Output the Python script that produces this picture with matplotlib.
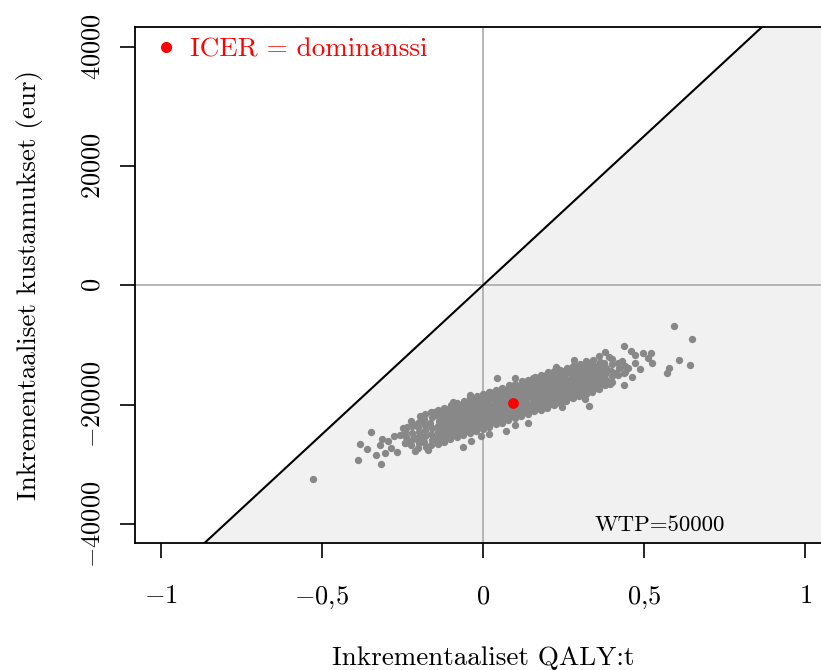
import matplotlib
matplotlib.use("Agg")
import matplotlib.pyplot as plt
from matplotlib.lines import Line2D
import numpy as np

plt.rcParams['font.family'] = 'serif'
plt.rcParams['font.serif'] = ['cmr10', 'DejaVu Serif']
plt.rcParams['mathtext.fontset'] = 'cm'
plt.rcParams['axes.unicode_minus'] = False

# simulated incremental QALYs / costs (dense core of the cloud)
core_qaly = [
    -0.243, -0.238, -0.241, -0.236,
    -0.222, -0.218, -0.221, -0.219, -0.223,
    -0.202, -0.197, -0.201, -0.198, -0.203, -0.199, -0.196,
    -0.178, -0.183, -0.179, -0.181, -0.177, -0.182, -0.180,
    -0.161, -0.157, -0.162, -0.159, -0.163, -0.158, -0.160,
    -0.139, -0.142, -0.138, -0.141, -0.137, -0.143, -0.140,
    -0.128, -0.132, -0.129, -0.131, -0.127, -0.130,
    -0.121, -0.118, -0.122, -0.119, -0.123, -0.117, -0.120,
    -0.108, -0.112, -0.109, -0.111, -0.107, -0.110,
    -0.101, -0.098, -0.102, -0.099, -0.103, -0.097, -0.100,
    -0.088, -0.092, -0.089, -0.091, -0.087, -0.090,
    -0.081, -0.078, -0.082, -0.079, -0.083, -0.077, -0.080,
    -0.068, -0.072, -0.069, -0.071, -0.067, -0.070,
    -0.061, -0.058, -0.062, -0.059, -0.063, -0.057, -0.060,
    -0.048, -0.052, -0.049, -0.051, -0.047, -0.050,
    -0.041, -0.038, -0.042, -0.039, -0.043, -0.037, -0.040,
    -0.028, -0.032, -0.029, -0.031, -0.027, -0.030,
    -0.021, -0.018, -0.022, -0.019, -0.023, -0.017, -0.020,
    -0.008, -0.012, -0.009, -0.011, -0.007, -0.010,
    -0.001, 0.002, -0.002, 0.001, -0.003, 0.003, 0.000,
    0.012, 0.008, 0.011, 0.009, 0.013, 0.010,
    0.019, 0.022, 0.018, 0.021, 0.017, 0.023, 0.020,
    0.032, 0.028, 0.031, 0.029, 0.033, 0.030,
    0.039, 0.042, 0.038, 0.041, 0.037, 0.043, 0.040,
    0.052, 0.048, 0.051, 0.049, 0.053, 0.050,
    0.059, 0.062, 0.058, 0.061, 0.057, 0.063, 0.060,
    0.072, 0.068, 0.071, 0.069, 0.073, 0.070,
    0.079, 0.082, 0.078, 0.081, 0.077, 0.083, 0.080,
    0.092, 0.088, 0.091, 0.089, 0.093, 0.090,
    0.099, 0.102, 0.098, 0.101, 0.097, 0.103, 0.100,
    0.112, 0.108, 0.111, 0.109, 0.113, 0.110,
    0.119, 0.122, 0.118, 0.121, 0.117, 0.123, 0.120,
    0.132, 0.128, 0.131, 0.129, 0.133, 0.130,
    0.139, 0.142, 0.138, 0.141, 0.137, 0.143, 0.140,
    0.152, 0.148, 0.151, 0.149, 0.153, 0.150,
    0.159, 0.162, 0.158, 0.161, 0.157, 0.163, 0.160,
    0.172, 0.168, 0.171, 0.169, 0.173, 0.170,
    0.179, 0.182, 0.178, 0.181, 0.177, 0.183, 0.180,
    0.192, 0.188, 0.191, 0.189, 0.193, 0.190,
    0.199, 0.202, 0.198, 0.201, 0.197, 0.203, 0.200,
    0.212, 0.208, 0.211, 0.209, 0.213, 0.210,
    0.219, 0.222, 0.218, 0.221, 0.217, 0.223, 0.220,
    0.232, 0.228, 0.231, 0.229, 0.233, 0.230,
    0.239, 0.242, 0.238, 0.241, 0.237, 0.243, 0.240,
    0.252, 0.248, 0.251, 0.249, 0.253, 0.250,
    0.259, 0.262, 0.258, 0.261, 0.257, 0.263, 0.260,
    0.272, 0.268, 0.271, 0.269, 0.273, 0.270,
    0.279, 0.282, 0.278, 0.281, 0.277, 0.283, 0.280,
    0.292, 0.288, 0.291, 0.289, 0.293, 0.290,
    0.299, 0.302, 0.298, 0.301, 0.297, 0.303, 0.300,
    0.312, 0.308, 0.311, 0.309, 0.313, 0.310,
    0.319, 0.322, 0.318, 0.321, 0.317, 0.323, 0.320,
    0.332, 0.328, 0.331, 0.329, 0.333, 0.330,
    0.339, 0.342, 0.338, 0.341, 0.337, 0.343, 0.340,
    0.352, 0.348, 0.351, 0.349, 0.353,
    0.359, 0.362, 0.358, 0.361, 0.357, 0.363,
    0.372, 0.368, 0.371, 0.369,
    0.379, 0.382, 0.378, 0.381, 0.377,
    0.399, 0.402, 0.398, 0.401,
    0.419, 0.422, 0.418,
    0.439, 0.442,
]
core_cost = [
    -26500, -25500, -24600, -23700,
    -26800, -25750, -24700, -23650, -22800,
    -27300, -26450, -25550, -24650, -23700, -22850, -21950,
    -27100, -26200, -25350, -24300, -23450, -22400, -21550,
    -26850, -25950, -24900, -24000, -23100, -22050, -21200,
    -26550, -25500, -24650, -23600, -22750, -21700, -20850,
    -25800, -24850, -23950, -22950, -22050, -21050,
    -26250, -25200, -24300, -23250, -22400, -21350, -20500,
    -25450, -24550, -23500, -22650, -21600, -20750,
    -25800, -24900, -23850, -22950, -22050, -20950, -20100,
    -25150, -24100, -23250, -22200, -21350, -20300,
    -25500, -24450, -23600, -22550, -21700, -20600, -19750,
    -24700, -23850, -22800, -21950, -20900, -20050,
    -25150, -24100, -23250, -22200, -21350, -20250, -19400,
    -24350, -23500, -22450, -21600, -20550, -19700,
    -24750, -23850, -22800, -21950, -20850, -20000, -18950,
    -24100, -23050, -22200, -21150, -20300, -19250,
    -24400, -23500, -22450, -21550, -20500, -19650, -18550,
    -23650, -22800, -21750, -20900, -19850, -19000,
    -24100, -23050, -22200, -21100, -20250, -19150, -18300,
    -23300, -22450, -21400, -20550, -19500, -18650,
    -23700, -22700, -21850, -20750, -19900, -18800, -17950,
    -22950, -22100, -21050, -20200, -19150, -18300,
    -23300, -22450, -21350, -20500, -19450, -18550, -17500,
    -22600, -21750, -20700, -19850, -18800, -17950,
    -23050, -21950, -21100, -20050, -19150, -18100, -17250,
    -22250, -21400, -20350, -19500, -18450, -17600,
    -22600, -21700, -20650, -19800, -18700, -17850, -16800,
    -21900, -21050, -20000, -19100, -18050, -17200,
    -22300, -21250, -20400, -19350, -18450, -17400, -16550,
    -21550, -20700, -19650, -18750, -17700, -16850,
    -21850, -21000, -19950, -19050, -18000, -17150, -16100,
    -21200, -20350, -19250, -18400, -17350, -16500,
    -21600, -20550, -19700, -18600, -17750, -16700, -15850,
    -20850, -20000, -18900, -18050, -17000, -16150,
    -21150, -20300, -19250, -18350, -17300, -16450, -15400,
    -20550, -19500, -18650, -17600, -16750, -15700,
    -20900, -19850, -19000, -17900, -17050, -16000, -15150,
    -20100, -19250, -18200, -17350, -16300, -15450,
    -20500, -19450, -18600, -17550, -16700, -15650, -14800,
    -19850, -18800, -17950, -16900, -16050, -15000,
    -20150, -19100, -18250, -17200, -16350, -15300, -14450,
    -19400, -18550, -17500, -16650, -15600, -14750,
    -19750, -18750, -17900, -16850, -16000, -14950, -14150,
    -19150, -18100, -17250, -16200, -15350, -14300,
    -19350, -18350, -17550, -16500, -15650, -14600, -13850,
    -18700, -17850, -16800, -15950, -14900, -14050,
    -18950, -17950, -17150, -16150, -15300, -14300, -13550,
    -18400, -17350, -16450, -15450, -14550, -13550,
    -18550, -17550, -16800, -15800, -15000, -14000, -13250,
    -18050, -17150, -16150, -15250, -14250, -13350,
    -18300, -17250, -16450, -15450, -14550, -13550, -12750,
    -17650, -16750, -15750, -14850, -13800, -12950,
    -17850, -16950, -15950, -15150, -14150, -13350, -12450,
    -17250, -16350, -15350, -14450, -13450,
    -17350, -16450, -15650, -14650, -13850, -12850,
    -16550, -15650, -14550, -13650,
    -16750, -15850, -14850, -13950, -12950,
    -16250, -15200, -14300, -13250,
    -15000, -13950, -13000,
    -14700, -13500,
]

# scattered simulations around the edges of the cloud
tail_qaly = [
    -0.527, -0.388, -0.381, -0.360, -0.347, -0.332, -0.316, -0.304,
    -0.285, -0.267, -0.211, -0.171, -0.319, -0.313, -0.295, -0.276,
    -0.257, -0.248, -0.242, -0.226, -0.217, -0.211, -0.192, -0.180,
    -0.152, -0.121, -0.140, -0.093, -0.040, -0.009, 0.022, -0.062,
    -0.037, -0.006, 0.019, 0.071, 0.099, 0.140, 0.043, 0.099,
    0.155, 0.180, 0.202, 0.226, 0.245, 0.282, 0.316, 0.329,
    0.378, 0.394, 0.437, 0.437, 0.459, 0.462, 0.471, 0.471,
    0.487, 0.496, 0.512, 0.521, 0.524, 0.571, 0.577, 0.592,
    0.608, 0.642, 0.648, 0.410, 0.440, 0.450, 0.430, 0.400,
    0.390, 0.360,
]
tail_cost = [
    -32530, -29350, -26660, -27500, -24650, -28510, -30020, -28170,
    -27340, -28010, -27840, -27670, -26830, -25830, -26160, -25320,
    -25160, -23980, -26500, -26330, -23310, -25660, -25490, -23480,
    -21300, -26160, -26500, -19620, -18450, -18780, -17940, -27170,
    -26160, -25320, -24990, -24480, -23480, -23140, -15600, -15600,
    -15600, -15090, -14590, -13750, -20460, -12580, -19120, -20290,
    -11240, -16600, -10230, -16770, -11070, -15430, -11740, -13080,
    -14090, -11400, -12240, -11400, -13080, -14760, -13920, -6880,
    -12580, -13420, -9060, -14700, -14500, -13800, -12700, -12300,
    -12000, -11900,
]

# mean (ICER point)
mean_qaly = [0.093]
mean_cost = [-19790]

wtp = 50000
x_ticks = [-1, -0.5, 0, 0.5, 1]
x_labels = [r'$-1$', r'$-0{,}5$', r'$0$', r'$0{,}5$', r'$1$']
y_ticks = [-40000, -20000, 0, 20000, 40000]
y_labels = [r'$-40000$', r'$-20000$', r'$0$', r'$20000$', r'$40000$']

fig = plt.figure(figsize=(8.21, 6.70), dpi=100)
ax = fig.add_axes([0.1644, 0.1896, 0.8477, 0.7701])

xlo, xhi = -1.08, 1.08
ylo, yhi = -43200, 43300
ax.set_xlim(xlo, xhi)
ax.set_ylim(ylo, yhi)

# shaded area below the WTP threshold
xs = np.array([xlo, xhi])
ax.fill_between(xs, wtp * xs, -1e6, color='#F1F1F1', lw=0, zorder=0)
ax.axline((0, 0), slope=wtp, color='black', lw=1.5, zorder=3)
ax.axhline(0, color='#AAAAAA', lw=1.2, zorder=1)
ax.axvline(0, color='#AAAAAA', lw=1.2, zorder=1)

ax.scatter(core_qaly, core_cost, s=28, color='#888888', lw=0, zorder=2)
ax.scatter(tail_qaly, tail_cost, s=28, color='#888888', lw=0, zorder=2)
ax.scatter(mean_qaly, mean_cost, s=60, color='red', lw=0, zorder=4)

ax.text(0.55, -40200, 'WTP=50000', ha='center', va='center', fontsize=16.5)

handle = Line2D([], [], marker='o', color='red', linestyle='none', markersize=7)
ax.legend([handle], ['ICER = dominanssi'], loc='upper left', frameon=False,
          labelcolor='red', fontsize=19.5, handletextpad=0.2,
          handlelength=1.4, bbox_to_anchor=(-0.018, 1.027))

ax.set_xticks(x_ticks)
ax.set_xticklabels(x_labels)
ax.set_yticks(y_ticks)
ax.set_yticklabels(y_labels)
ax.tick_params(axis='both', direction='out', length=11, width=1.2, labelsize=19)
ax.tick_params(axis='x', pad=19)
ax.tick_params(axis='y', pad=11)
for t in ax.get_yticklabels():
    t.set_rotation(90)
    t.set_va('center')

for sp in ax.spines.values():
    sp.set_linewidth(1.3)

ax.set_xlabel('Inkrementaaliset QALY:t', fontsize=19.5, labelpad=25)
ax.set_ylabel('Inkrementaaliset kustannukset (eur)', fontsize=19.5, labelpad=27)

plt.savefig('out.png', dpi=100)
